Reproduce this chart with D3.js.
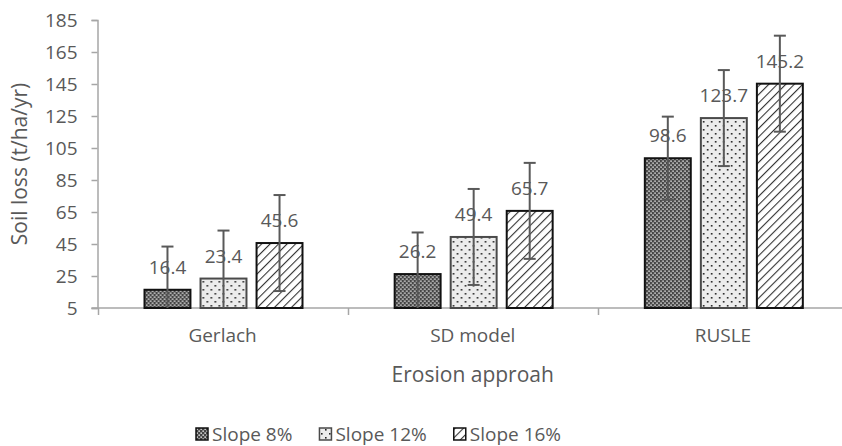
<!DOCTYPE html>
<html>
<head>
<meta charset="utf-8">
<script src="https://cdn.jsdelivr.net/npm/d3@7"></script>
<style>
  html, body { margin: 0; padding: 0; background: #fff; }
  svg { display: block; }
  text { font-family: "Open Sans", "Noto Sans", sans-serif; fill: #595959; }
</style>
</head>
<body>
<svg id="chart" width="842" height="446"></svg>
<script>
const categories = ["Gerlach", "SD model", "RUSLE"];
const seriesNames = ["Slope 8%", "Slope 12%", "Slope 16%"];
const slope8  = [16.4, 26.2, 98.6];
const slope12 = [23.4, 49.4, 123.7];
const slope16 = [45.6, 65.7, 145.2];
const err8  = [27, 26, 26];
const err12 = [30, 30, 30];
const err16 = [30, 30, 30];
const yTicks = [5, 25, 45, 65, 85, 105, 125, 145, 165, 185];
const xTitle = "Erosion approah";
const yTitle = "Soil loss (t/ha/yr)";

(function () {
const values = [slope8, slope12, slope16];
const errors = [err8, err12, err16];

const svg = d3.select("#chart");
const W = 842;
const mLeft = 97.5, mRight = 848, mTop = 20, mBottom = 308;

const defs = svg.append("defs");
// Slope 8%: dark checker with light dots
const p1 = defs.append("pattern").attr("id", "pat8").attr("patternUnits", "userSpaceOnUse")
  .attr("width", 4).attr("height", 4);
p1.append("rect").attr("width", 4).attr("height", 4).attr("fill", "#454545");
p1.append("rect").attr("x", 0.4).attr("y", 0.4).attr("width", 1.5).attr("height", 1.5).attr("fill", "#e2e2e2");
p1.append("rect").attr("x", 2.4).attr("y", 2.4).attr("width", 1.5).attr("height", 1.5).attr("fill", "#e2e2e2");
// Slope 12%: light grey with black dots
const p2 = defs.append("pattern").attr("id", "pat12").attr("patternUnits", "userSpaceOnUse")
  .attr("width", 8).attr("height", 8);
p2.append("rect").attr("width", 8).attr("height", 8).attr("fill", "#ececec");
p2.append("rect").attr("x", 1).attr("y", 1).attr("width", 1.6).attr("height", 1.6).attr("fill", "#222");
p2.append("rect").attr("x", 5).attr("y", 5).attr("width", 1.6).attr("height", 1.6).attr("fill", "#222");
// Slope 16%: white with diagonal lines
const p3 = defs.append("pattern").attr("id", "pat16").attr("patternUnits", "userSpaceOnUse")
  .attr("width", 6).attr("height", 6).attr("patternTransform", "rotate(45)");
p3.append("rect").attr("width", 6).attr("height", 6).attr("fill", "#fff");
p3.append("line").attr("x1", 0).attr("y1", 0).attr("x2", 0).attr("y2", 6)
  .attr("stroke", "#333").attr("stroke-width", 2.2);

const fills = ["url(#pat8)", "url(#pat12)", "url(#pat16)"];
const strokes = ["#111", "#4a4a4a", "#111"];

const y = d3.scaleLinear().domain([5, 185]).range([mBottom, mTop]);
const x0 = d3.scaleBand().domain(categories).range([mLeft, mRight]).padding(0);
const x1 = d3.scaleBand().domain(d3.range(3)).range([47, 205]).paddingInner(0.18);

// Y axis
const yAxis = svg.append("g").attr("transform", `translate(${mLeft},0)`)
  .call(d3.axisLeft(y).tickValues(yTicks).tickSize(6).tickPadding(14).tickFormat(d3.format("d")));
yAxis.select(".domain").attr("stroke", "#a6a6a6").attr("stroke-width", 1.5);
yAxis.selectAll(".tick line").attr("stroke", "#a6a6a6").attr("stroke-width", 1.5);
yAxis.selectAll(".tick text").attr("font-size", 19).attr("fill", "#595959")
  .style("font-family", "'Open Sans', sans-serif");

// X axis line + separators
const xg = svg.append("g");
xg.append("line").attr("x1", mLeft - 6).attr("x2", W).attr("y1", y(5)).attr("y2", y(5))
  .attr("stroke", "#a6a6a6").attr("stroke-width", 1.5);
categories.forEach((c) => {
  const xs = Math.round(x0(c)) + 0.5;
  xg.append("line").attr("x1", xs).attr("x2", xs).attr("y1", y(5)).attr("y2", y(5) + 7)
    .attr("stroke", "#a6a6a6").attr("stroke-width", 1.5);
  xg.append("text").attr("x", x0(c) + x0.bandwidth() / 2).attr("y", 342)
    .attr("text-anchor", "middle").attr("font-size", 19).text(c);
});

// Bars
const groups = svg.append("g").selectAll("g").data(categories).join("g")
  .attr("transform", d => `translate(${x0(d)},0)`);
groups.each(function (c, ci) {
  const g = d3.select(this);
  for (let s = 0; s < 3; s++) {
    const v = values[s][ci];
    const bx = x1(s), bw = x1.bandwidth();
    g.append("rect").attr("x", bx).attr("y", y(v)).attr("width", bw).attr("height", y(5) - y(v))
      .attr("fill", fills[s]).attr("stroke", strokes[s]).attr("stroke-width", 2);
  }
});
// Labels and error bars
groups.each(function (c, ci) {
  const g = d3.select(this);
  for (let s = 0; s < 3; s++) {
    const v = values[s][ci];
    const cx = x1(s) + x1.bandwidth() / 2;
    g.append("text").attr("x", cx).attr("y", y(v) - 16).attr("text-anchor", "middle")
      .attr("font-size", 19).attr("fill", "#404040").text(v.toFixed(1));
  }
  for (let s = 0; s < 3; s++) {
    const v = values[s][ci], e = errors[s][ci];
    const cx = x1(s) + x1.bandwidth() / 2;
    const hi = v + e, lo = Math.max(5, v - e);
    g.append("line").attr("x1", cx).attr("x2", cx).attr("y1", y(hi)).attr("y2", y(lo))
      .attr("stroke", "#595959").attr("stroke-width", 2);
    g.append("line").attr("x1", cx - 6).attr("x2", cx + 6).attr("y1", y(hi)).attr("y2", y(hi))
      .attr("stroke", "#595959").attr("stroke-width", 2);
    if (v - e >= 5) {
      g.append("line").attr("x1", cx - 6).attr("x2", cx + 6).attr("y1", y(lo)).attr("y2", y(lo))
        .attr("stroke", "#595959").attr("stroke-width", 2);
    }
  }
});

// Axis titles
svg.append("text").attr("x", (mLeft + mRight) / 2).attr("y", 382).attr("text-anchor", "middle")
  .attr("font-size", 21).text(xTitle);
svg.append("text").attr("transform", `translate(27,${(mTop + mBottom) / 2}) rotate(-90)`)
  .attr("text-anchor", "middle").attr("font-size", 21).text(yTitle);

// Legend
const leg = svg.append("g");
let lx = 195;
seriesNames.forEach((n, i) => {
  leg.append("rect").attr("x", lx + 1).attr("y", 428).attr("width", 12).attr("height", 12)
    .attr("fill", fills[i]).attr("stroke", strokes[i]).attr("stroke-width", 1.5);
  const t = leg.append("text").attr("x", lx + 17).attr("y", 441).attr("font-size", 19).text(n);
  lx += 17 + t.node().getComputedTextLength() + 26;
});
})();
</script>
</body>
</html>
